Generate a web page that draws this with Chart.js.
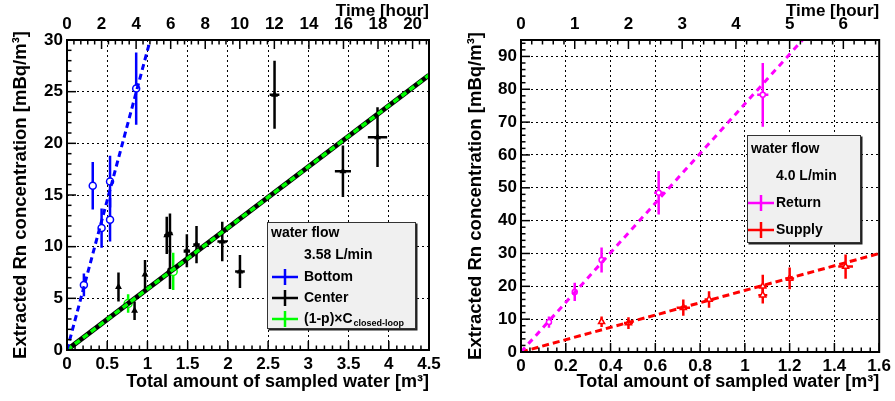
<!DOCTYPE html>
<html>
<head>
<meta charset="utf-8">
<script src="https://cdn.jsdelivr.net/npm/chart.js@4.4.0/dist/chart.umd.min.js"></script>
<style>
    body { margin: 0; background: #fff; width: 895px; height: 401px; overflow: hidden; position: relative; }
    canvas { position: absolute; top: 0; }
    #left-chart { left: 0; }
    #right-chart { left: 447px; }
</style>
</head>
<body>
<canvas id="left-chart" width="447" height="401" style="width:447px;height:401px"></canvas>
<canvas id="right-chart" width="448" height="401" style="width:448px;height:401px"></canvas>
<script>
// ---- left panel data (3.58 L/min) ----
const bottomX    = [0.21, 0.32, 0.43, 0.535, 0.535, 0.86];
const bottomY    = [6.3, 15.9, 11.8, 16.3, 12.6, 25.3];
const bottomYErr = [1.1, 2.3, 1.9, 2.5, 2.1, 3.5];
const bottomXErr = [0.01, 0.01, 0.01, 0.01, 0.01, 0.01];

const centerX    = [0.64, 0.84, 0.97, 1.24, 1.28, 1.28, 1.49, 1.61, 1.93, 2.15, 2.58, 3.43, 3.86];
const centerY    = [6.1, 3.8, 7.3, 11.1, 11.3, 7.8, 9.6, 10.2, 10.5, 7.6, 24.7, 17.3, 20.6];
const centerYErr = [1.4, 0.9, 1.4, 1.8, 1.9, 1.9, 1.6, 1.8, 1.9, 1.6, 3.3, 2.5, 2.9];
const centerXErr = [0.02, 0.02, 0.02, 0.03, 0.03, 0.03, 0.04, 0.04, 0.06, 0.06, 0.06, 0.1, 0.12];

const closedX    = [0.76, 1.32];
const closedY    = [4.5, 7.6];
const closedYErr = [0.9, 1.8];
const closedXErr = [0.03, 0.03];

const bottomFitX = [0, 1.2];
const bottomFitY = [0, 34.8];
const centerFitX = [0, 4.5];
const centerFitY = [0, 26.6];

// ---- right panel data (4.0 L/min) ----
const returnX    = [0.125, 0.24, 0.36, 0.615, 1.08];
const returnY    = [9.1, 18.3, 28.0, 48.5, 78.3];
const returnYErr = [1.7, 2.8, 3.8, 6.6, 9.7];
const returnXErr = [0.01, 0.01, 0.01, 0.02, 0.025];

const supplyX    = [0.36, 0.48, 0.725, 0.84, 1.08, 1.08, 1.2, 1.45];
const supplyY    = [9.2, 8.8, 13.5, 16.0, 20.0, 17.3, 22.4, 26.0];
const supplyYErr = [1.6, 1.8, 2.5, 2.5, 3.5, 2.5, 3.3, 3.7];
const supplyXErr = [0.01, 0.02, 0.03, 0.02, 0.02, 0.02, 0.02, 0.033];

const returnFitX = [0, 1.35];
const returnFitY = [0, 102];
const supplyFitX = [0, 1.6];
const supplyFitY = [0, 30];

const FONT = '"Liberation Sans", Arial, Helvetica, sans-serif';

function toPoints(xs, ys) {
    return xs.map((x, i) => ({ x: x, y: ys[i] }));
}

function fmt(v) {
    return String(+Number(v).toFixed(2));
}

// error bars drawn from the dataset's own error arrays
const errorBarPlugin = {
    id: 'errorBars',
    beforeDatasetsDraw(chart) {
        const ctx = chart.ctx;
        const xs = chart.scales.x, ys = chart.scales.y;
        ctx.save();
        ctx.beginPath();
        ctx.rect(chart.chartArea.left, chart.chartArea.top, chart.chartArea.width, chart.chartArea.height);
        ctx.clip();
        chart.data.datasets.forEach(ds => {
            if (!ds.yErr) return;
            ctx.strokeStyle = ds.borderColor;
            ctx.lineWidth = ds.errWidth || 2;
            ds.data.forEach((p, i) => {
                const px = xs.getPixelForValue(p.x);
                const py = ys.getPixelForValue(p.y);
                ctx.beginPath();
                ctx.moveTo(px, ys.getPixelForValue(p.y + ds.yErr[i]));
                ctx.lineTo(px, ys.getPixelForValue(p.y - ds.yErr[i]));
                ctx.moveTo(xs.getPixelForValue(p.x - ds.xErr[i]), py);
                ctx.lineTo(xs.getPixelForValue(p.x + ds.xErr[i]), py);
                ctx.stroke();
            });
        });
        ctx.restore();
    }
};

// ROOT-like frame with inward ticks
const framePlugin = {
    id: 'frame',
    afterDraw(chart, args, opts) {
        const ctx = chart.ctx;
        const a = chart.chartArea;
        ctx.save();
        ctx.strokeStyle = '#000';
        ctx.lineWidth = 1.5;
        const tick = (scale, step, minor, len, dir) => {
            const n = Math.round((scale.max - scale.min) / minor);
            for (let k = 0; k <= n; k++) {
                const v = scale.min + k * minor;
                if (v > scale.max + 1e-9) break;
                const isMajor = Math.abs(v / step - Math.round(v / step)) < 1e-6;
                const l = isMajor ? len : len / 2;
                const p = scale.getPixelForValue(v);
                ctx.beginPath();
                if (dir === 'bottom') { ctx.moveTo(p, a.bottom); ctx.lineTo(p, a.bottom - l); }
                if (dir === 'top') { ctx.moveTo(p, a.top); ctx.lineTo(p, a.top + l); }
                if (dir === 'left') { ctx.moveTo(a.left, p); ctx.lineTo(a.left + l, p); }
                ctx.stroke();
            }
        };
        tick(chart.scales.x, opts.xStep, opts.xMinor, 9, 'bottom');
        tick(chart.scales.x2, opts.tStep, opts.tMinor, 9, 'top');
        tick(chart.scales.y, opts.yStep, opts.yMinor, 9, 'left');
        ctx.lineWidth = 2;
        ctx.strokeRect(a.left, a.top, a.width, a.height);
        ctx.restore();
    }
};

// boxed legend in the ROOT style
const boxLegendPlugin = {
    id: 'boxLegend',
    afterDraw(chart, args, opts) {
        const ctx = chart.ctx;
        const [x0, y0, x1, y1] = opts.box;
        ctx.save();
        ctx.fillStyle = '#222';
        ctx.fillRect(x0 + 1.5, y0 + 1.5, x1 - x0, y1 - y0);
        ctx.fillStyle = '#f0f0f0';
        ctx.fillRect(x0, y0, x1 - x0, y1 - y0);
        ctx.strokeStyle = '#333';
        ctx.lineWidth = 1;
        ctx.strokeRect(x0 + 0.5, y0 + 0.5, x1 - x0 - 1, y1 - y0 - 1);
        ctx.font = 'bold 14px ' + FONT;
        ctx.textBaseline = 'middle';
        ctx.fillStyle = '#000';
        ctx.fillText('water flow', x0 + 4, opts.rows[0]);
        ctx.fillText(opts.flow, opts.textX, opts.rows[1]);
        opts.entries.forEach((e, i) => {
            const cy = opts.rows[i + 2];
            const cx = opts.markX;
            ctx.strokeStyle = e.color;
            ctx.lineWidth = 2.5;
            ctx.beginPath();
            ctx.moveTo(cx - 13, cy); ctx.lineTo(cx + 13, cy);
            ctx.moveTo(cx, cy - 8); ctx.lineTo(cx, cy + 8);
            ctx.stroke();
            ctx.fillStyle = '#000';
            ctx.font = 'bold 14px ' + FONT;
            ctx.fillText(e.text, opts.textX, cy);
            if (e.sub) {
                const w = ctx.measureText(e.text).width;
                ctx.font = 'bold 9px ' + FONT;
                ctx.fillText(e.sub, opts.textX + w + 1, cy + 5);
            }
        });
        ctx.restore();
    }
};

function axisFont(size) {
    return { family: FONT, size: size, weight: 'bold' };
}

function makeScales(cfg) {
    return {
        x: {
            type: 'linear', position: 'bottom', min: 0, max: cfg.xMax,
            ticks: { stepSize: cfg.xStep, color: '#000', font: axisFont(17), padding: 4,
                     maxRotation: 0, includeBounds: false, autoSkip: false, callback: fmt },
            grid: { color: '#000', lineWidth: 1, drawTicks: false },
            border: { display: false, dash: [2, 3] },
            title: { display: true, text: 'Total amount of sampled water [m³]', align: 'end',
                     color: '#000', font: axisFont(18), padding: { top: 0, bottom: 8 } },
            afterFit: s => { s.height = cfg.bottomH; }
        },
        x2: {
            type: 'linear', position: 'top', min: 0, max: cfg.tMax,
            ticks: { stepSize: cfg.tStep, color: '#000', font: axisFont(17), padding: 5,
                     maxRotation: 0, includeBounds: false, autoSkip: false, callback: fmt },
            grid: { display: false, drawTicks: false },
            border: { display: false },
            title: { display: true, text: 'Time [hour]', align: 'end',
                     color: '#000', font: axisFont(17), padding: { top: 1, bottom: 0 } },
            afterFit: s => { s.height = 40; }
        },
        y: {
            type: 'linear', position: 'left', min: 0, max: cfg.yMax,
            ticks: { stepSize: cfg.yStep, color: '#000', font: axisFont(17), padding: 4,
                     includeBounds: false, autoSkip: false, callback: fmt },
            grid: { color: '#000', lineWidth: 1, drawTicks: false },
            border: { display: false, dash: [2, 3] },
            title: { display: true, text: 'Extracted Rn concentration [mBq/m³]', align: 'center',
                     color: '#000', font: axisFont(18.5), padding: { top: cfg.titlePad, bottom: 0 } },
            afterFit: s => { s.width = cfg.yAxisW; }
        }
    };
}

function pointSet(label, xs, ys, xErr, yErr, color, style, radius, fill) {
    return {
        type: 'scatter', label: label, data: toPoints(xs, ys),
        xErr: xErr, yErr: yErr, errWidth: 2.5,
        borderColor: color, backgroundColor: fill, pointStyle: style,
        pointRadius: radius, pointBorderWidth: 1.5, order: 2
    };
}

function fitSet(xs, ys, color, width, dash) {
    return {
        type: 'line', data: toPoints(xs, ys), borderColor: color, borderWidth: width,
        borderDash: dash, pointRadius: 0, fill: false, tension: 0, order: 1
    };
}

// left chart
new Chart(document.getElementById('left-chart'), {
    type: 'scatter',
    data: {
        datasets: [
            pointSet('Bottom', bottomX, bottomY, bottomXErr, bottomYErr, '#0000ff', 'circle', 3.5, '#ffffff'),
            pointSet('Center', centerX, centerY, centerXErr, centerYErr, '#000000', 'triangle', 2.5, '#000000'),
            pointSet('closed', closedX, closedY, closedXErr, closedYErr, '#00ff00', 'circle', 4, '#ffffff'),
            fitSet(bottomFitX, bottomFitY, '#0000ff', 3, [6, 4]),
            // lower index is painted last, so the green dashes sit on the black line
            fitSet(centerFitX, centerFitY, '#00ff00', 3.5, [6, 4]),
            fitSet(centerFitX, centerFitY, '#000000', 5, [])
        ]
    },
    options: {
        responsive: false,
        animation: false,
        layout: { padding: { left: 0, right: 18, top: 0, bottom: 0 } },
        scales: makeScales({ xMax: 4.5, xStep: 0.5, yMax: 30, yStep: 5, tMax: 20.95, tStep: 2,
                             bottomH: 51, yAxisW: 67, titlePad: 10 }),
        plugins: {
            legend: { display: false },
            tooltip: { enabled: false },
            frame: { xStep: 0.5, xMinor: 0.1, yStep: 5, yMinor: 1, tStep: 2, tMinor: 0.4 },
            boxLegend: {
                box: [267, 222, 416, 329], rows: [233, 255, 277, 298, 319],
                markX: 285, textX: 304, flow: '3.58 L/min',
                entries: [
                    { color: '#0000ff', text: 'Bottom' },
                    { color: '#000000', text: 'Center' },
                    { color: '#00ff00', text: '(1-p)×C', sub: 'closed-loop' }
                ]
            }
        }
    },
    plugins: [errorBarPlugin, framePlugin, boxLegendPlugin]
});

// right chart
new Chart(document.getElementById('right-chart'), {
    type: 'scatter',
    data: {
        datasets: [
            pointSet('Return', returnX, returnY, returnXErr, returnYErr, '#ff00ff', 'circle', 2.5, '#ffffff'),
            pointSet('Supply', supplyX, supplyY, supplyXErr, supplyYErr, '#ff0000', 'triangle', 3.5, '#ffffff'),
            fitSet(returnFitX, returnFitY, '#ff00ff', 3, [6, 5]),
            fitSet(supplyFitX, supplyFitY, '#ff0000', 3, [7, 4])
        ]
    },
    options: {
        responsive: false,
        animation: false,
        layout: { padding: { left: 0, right: 12, top: 0, bottom: 0 } },
        scales: makeScales({ xMax: 1.6, xStep: 0.2, yMax: 95, yStep: 10, tMax: 6.667, tStep: 1,
                             bottomH: 49, yAxisW: 74, titlePad: 18 }),
        plugins: {
            legend: { display: false },
            tooltip: { enabled: false },
            frame: { xStep: 0.2, xMinor: 0.04, yStep: 10, yMinor: 2, tStep: 1, tMinor: 0.2 },
            boxLegend: {
                box: [300, 135, 414, 243], rows: [149, 176, 203, 230],
                markX: 314, textX: 329, flow: '4.0 L/min',
                entries: [
                    { color: '#ff00ff', text: 'Return' },
                    { color: '#ff0000', text: 'Supply' }
                ]
            }
        }
    },
    plugins: [errorBarPlugin, framePlugin, boxLegendPlugin]
});
</script>
</body>
</html>
